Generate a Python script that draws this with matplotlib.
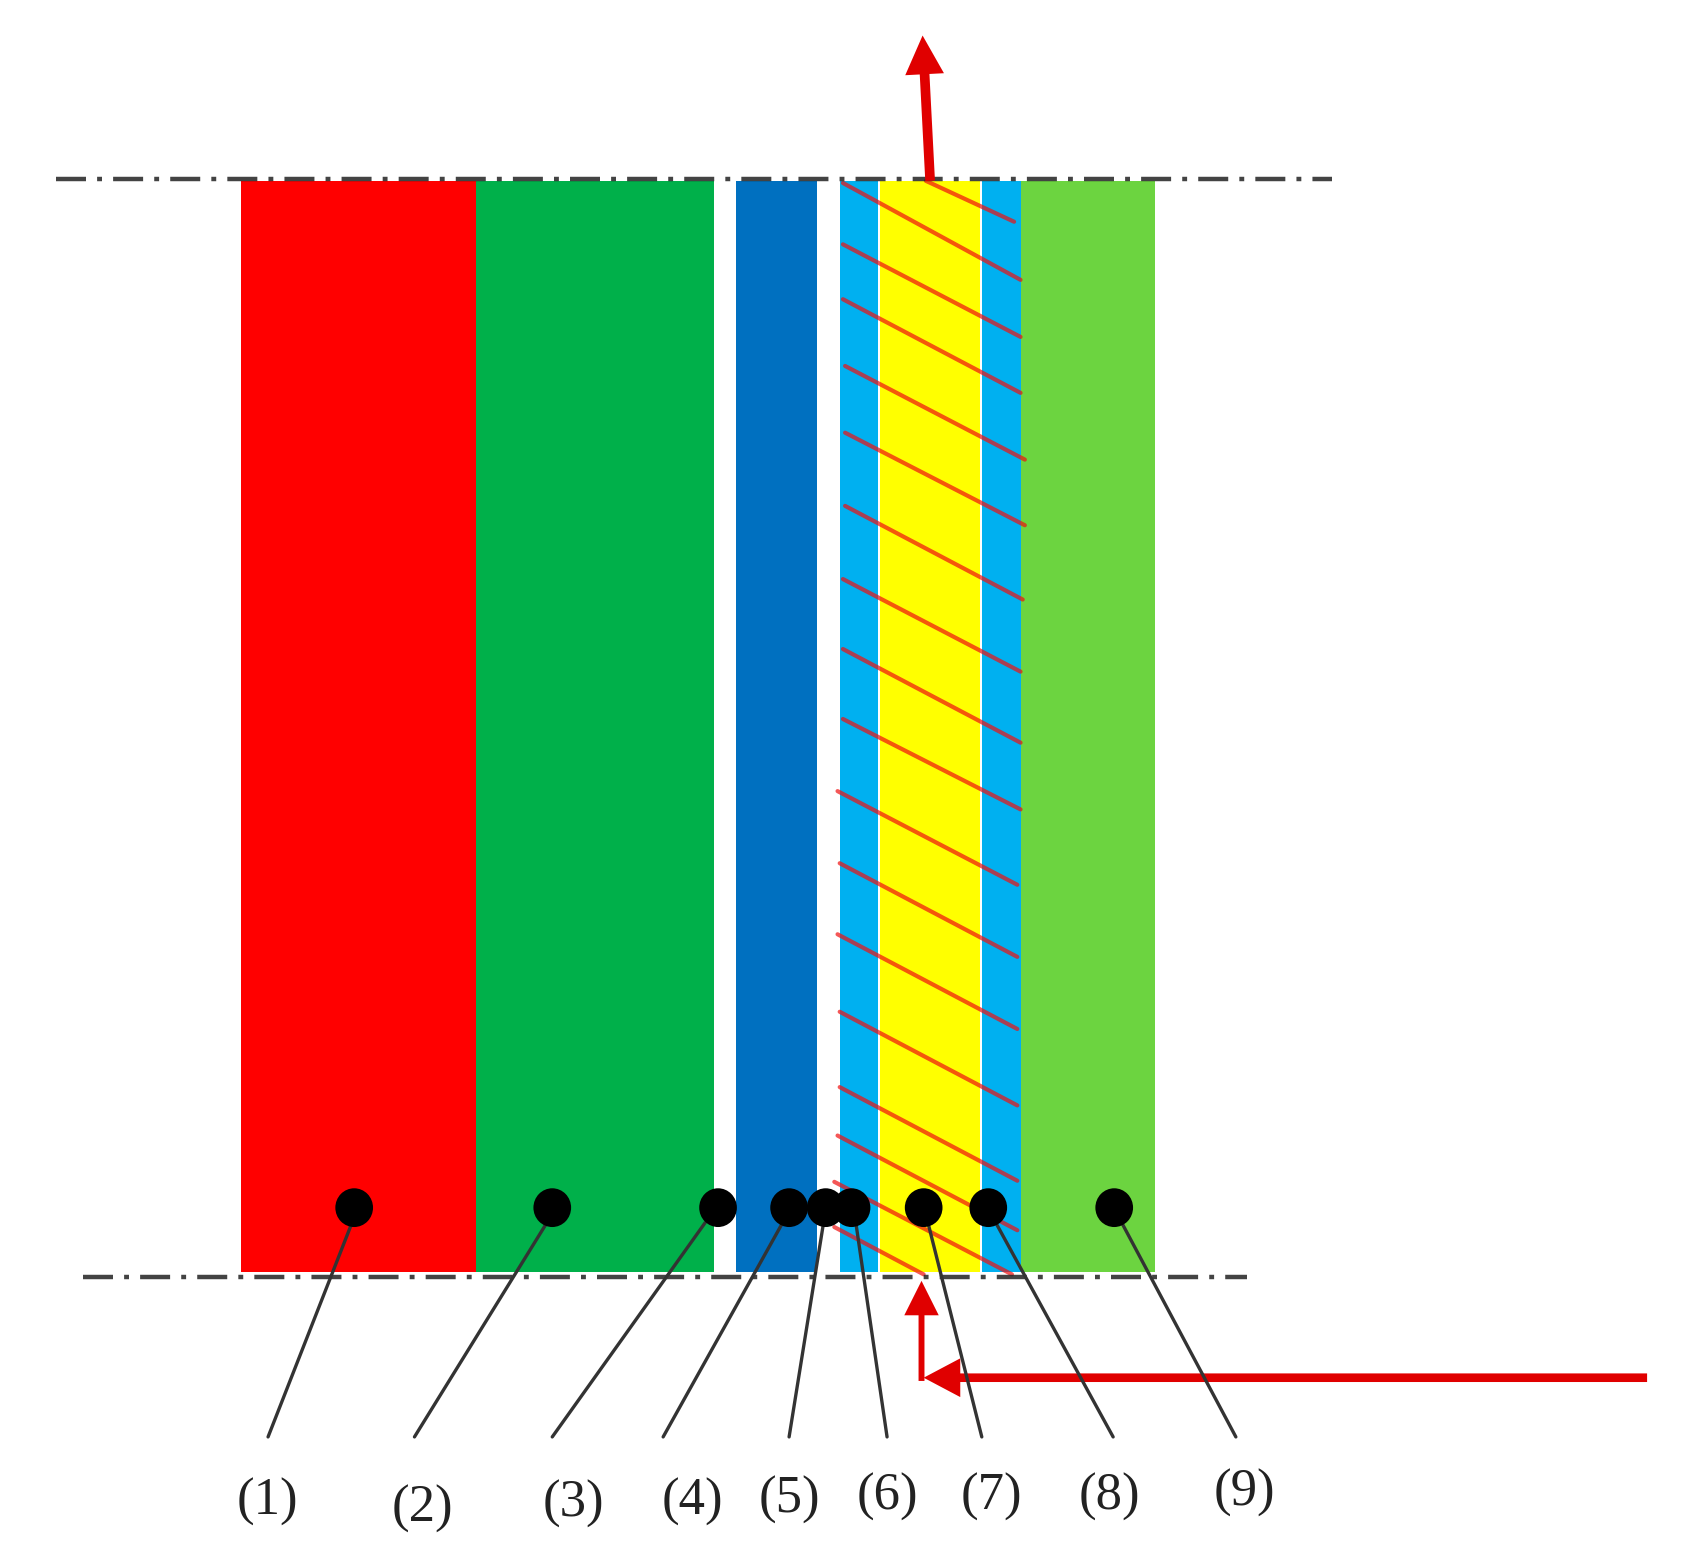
### Layer stack diagram with numbered layers, hatched region and red flow arrows.

import matplotlib
matplotlib.use("Agg")
import matplotlib.pyplot as plt
from matplotlib.patches import Ellipse, FancyArrow

# Layer edges along x
layer_left = [224, 442, 684, 780, 817, 912, 948]
layer_right = [442, 663, 759, 816, 910, 948, 1073]
layer_colors = ["#FF0000", "#00B04A", "#0070C0", "#00B0F0", "#FFFF00", "#00B0F0", "#6CD440"]
layer_top = 168
layer_bottom = 1182

# Numbered points and the label each one leads to
point_x = [329, 513, 667, 733, 767, 791, 858, 918, 1035]
point_y = 1122
leader_start_x = [327, 508, 655, 727, 765, 795, 862, 925, 1042]
leader_end_x = [249, 385, 513, 616, 733, 824, 912, 1034, 1148]
leader_y = (1136, 1335)
labels = ["(1)", "(2)", "(3)", "(4)", "(5)", "(6)", "(7)", "(8)", "(9)"]
label_x = [248, 392, 533, 643, 733, 824, 921, 1031, 1156]
label_y = [1395, 1402, 1397, 1395, 1394, 1391, 1391, 1391, 1387]

# Slanted hatch lines
hatch_x0 = [860, 783, 783, 783, 785, 785, 785, 783, 783, 783, 778, 780, 778, 780, 780, 778, 775, 775]
hatch_y0 = [168, 170, 227, 278, 340, 402, 470, 538, 603, 668, 735, 802, 868, 940, 1010, 1055, 1098, 1140]
hatch_x1 = [942, 948, 948, 948, 952, 952, 950, 948, 948, 948, 945, 945, 945, 945, 945, 945, 940, 858]
hatch_y1 = [206, 260, 313, 365, 427, 488, 557, 624, 690, 752, 822, 889, 956, 1027, 1097, 1143, 1184, 1184]

# Centre lines: y, start, end
center_y = [166, 1186]
center_x0 = [52, 77]
center_x1 = [1237, 1158]

fig = plt.figure(figsize=(16.88, 15.65), dpi=100)
ax = fig.add_axes([0, 0, 1, 1])
ax.set_xlim(0, 1568)
ax.set_ylim(1454, 0)
ax.axis("off")

for left, right, color in zip(layer_left, layer_right, layer_colors):
    ax.fill_between([left, right], layer_top, layer_bottom, color=color, lw=0, zorder=1)

for x0, y0, x1, y1 in zip(hatch_x0, hatch_y0, hatch_x1, hatch_y1):
    ax.plot([x0, x1], [y0, y1], color="#F01010", alpha=0.7, lw=3, zorder=2, solid_capstyle="round")

for y, x0, x1 in zip(center_y, center_x0, center_x1):
    ax.plot([x0, x1], [y, y], color="#222222", lw=3.2, zorder=3,
            ls=(0, (6.75, 2.5, 1.1, 2.5)), alpha=0.85)

red = "#E00000"
ax.add_patch(FancyArrow(864, 168, -7, -135, width=9, head_width=36, head_length=36,
                        length_includes_head=True, color=red, lw=0, zorder=4))
ax.add_patch(FancyArrow(1530, 1280, -672, 0, width=8, head_width=36, head_length=34,
                        length_includes_head=True, color=red, lw=0, zorder=4))
ax.add_patch(FancyArrow(856, 1283, 0, -93, width=5.5, head_width=32, head_length=32,
                        length_includes_head=True, color=red, lw=0, zorder=4))

for x0, x1 in zip(leader_start_x, leader_end_x):
    ax.plot([x0, x1], leader_y, color="#333333", lw=2.4, zorder=5, solid_capstyle="round")

for x in point_x:
    ax.add_patch(Ellipse((x, point_y), 35, 36, color="black", lw=0, zorder=6))

for text, x, y in zip(labels, label_x, label_y):
    ax.text(x, y, text, family="Liberation Serif", fontsize=38, color="#222222",
            ha="center", va="center")

plt.savefig("out.png", dpi=100)
